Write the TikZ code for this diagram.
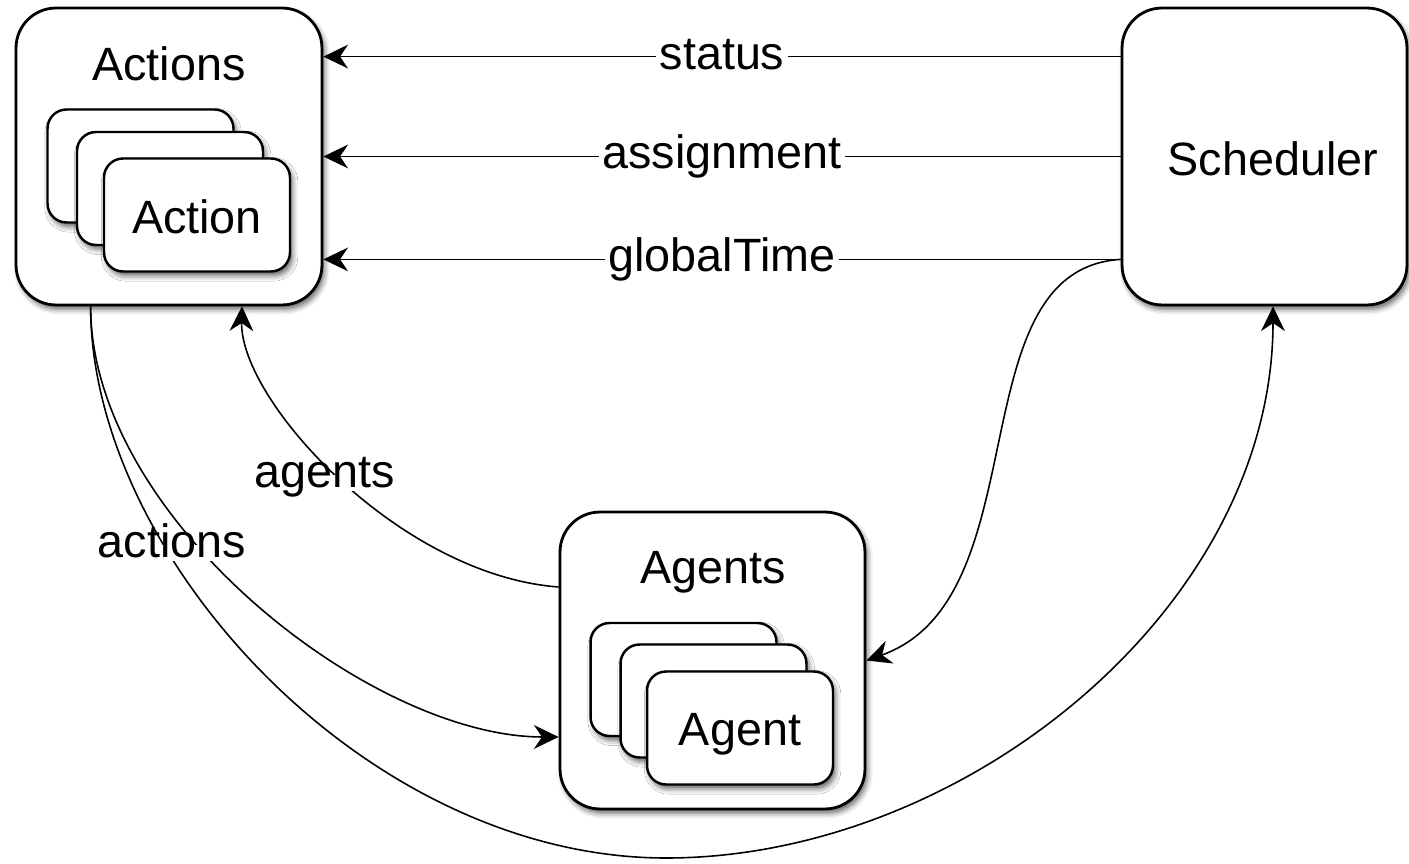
\documentclass[tikz,border=0pt]{standalone}
\usepackage{fontspec}
\setmainfont{Liberation Sans}
\usetikzlibrary{arrows.meta,shadows.blur}
\begin{document}
\begin{tikzpicture}[
  x=0.02cm, y=-0.02cm,
  font=\fontsize{26.6}{32}\selectfont,
  soft/.style={blur shadow={shadow xshift=1.5pt, shadow yshift=-2.5pt,
      shadow blur radius=3pt, shadow opacity=60}},
  box/.style={draw, line width=1.6pt, fill=white, rounded corners=0.8cm,
      inner sep=0pt, soft},
  card/.style={draw, line width=1.4pt, fill=white, rounded corners=0.38cm,
      minimum width=3.72cm, minimum height=2.26cm, inner sep=0pt, soft},
  txt/.style={text height=0.716em, text depth=0.212em, inner sep=0pt, yshift=-0.16cm},
  lbl/.style={txt, fill=white, inner xsep=2pt},
  conn/.style={line width=0.9pt,
      -{Stealth[length=14pt, width=13.5pt, inset=4.5pt]}}
]
\useasboundingbox (0,0) rectangle (1409,864);

% Actions container with its stacked cards
\node[box, minimum width=6.12cm, minimum height=5.94cm] (act) at (169,156.5) {};
\node[txt] (actT) at (169,68) {Actions};
\node[card] (act1) at (140.5,166) {};
\node[card] (act2) at (170,188.5) {};
\node[card] (act3) at (197,215) {};
\node[txt] (act3T) at (197,221) {Action};

% Scheduler
\node[box, minimum width=5.7cm, minimum height=5.94cm] (sched) at (1264.5,156.5) {};
\node[txt] (schedT) at (1273,163) {Scheduler};

% Agents container with its stacked cards
\node[box, minimum width=6.1cm, minimum height=5.94cm] (ag) at (712.5,660.5) {};
\node[txt] (agT) at (713,571) {Agents};
\node[card] (ag1) at (683.5,679.5) {};
\node[card] (ag2) at (713.5,701) {};
\node[card] (ag3) at (740,728) {};
\node[txt] (ag3T) at (740,733) {Agent};

% Scheduler -> Actions
\draw[conn] ([yshift=-1cm]sched.north west) -- node[lbl]{status} ([yshift=-1cm]act.north east);
\draw[conn] (sched.west) -- node[lbl]{assignment} (act.east);
\draw[conn] ([yshift=0.94cm]sched.south west) -- node[lbl]{globalTime} ([yshift=0.94cm]act.south east);

% Scheduler -> Agents
\draw[conn] ([yshift=0.94cm]sched.south west) .. controls +(-165,10) and +(175,-62) .. (ag.east);

% Agents -> Actions
\draw[conn] ([yshift=1.47cm]ag.west) .. controls +(-160,-12) and +(-2,94) .. ([xshift=1.46cm]act.south);

% Actions -> Agents and Actions -> Scheduler
\coordinate (low) at (666,858);
\draw[conn] ([xshift=1.52cm]act.south west) .. controls +(0,211) and +(-189,0) .. ([yshift=-1.53cm]ag.west);
\draw[conn] ([xshift=1.52cm]act.south west) .. controls +(0,250) and +(-300,0) .. (low)
            .. controls +(300,0) and +(0,300) .. ([xshift=0.17cm]sched.south);

\node[lbl] (agentsL) at (325,475) {agents};
\node[lbl] (actionsL) at (172,545) {actions};
\end{tikzpicture}
\end{document}
